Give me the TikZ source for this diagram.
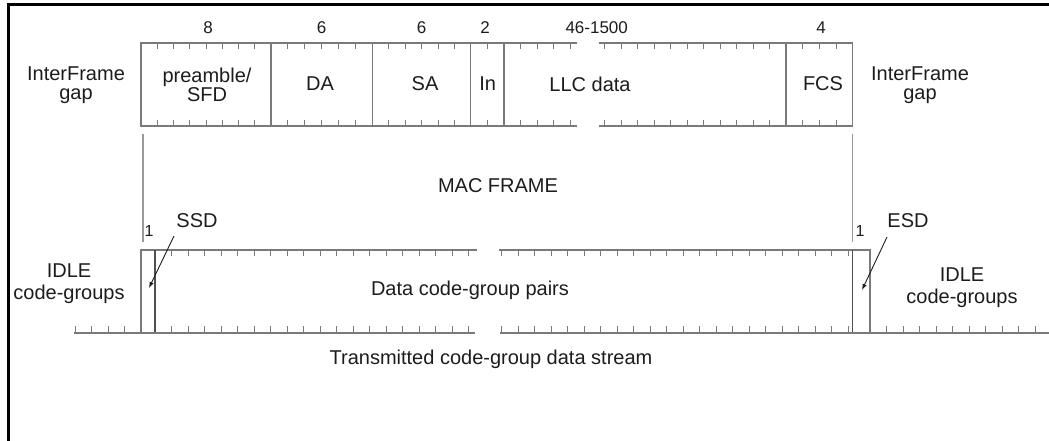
\documentclass[tikz,border=0pt]{standalone}
\usepackage{fontspec}
\setmainfont{Liberation Sans}
\usetikzlibrary{arrows.meta}
\definecolor{fg}{HTML}{7A7A7A}
\definecolor{dk}{HTML}{505050}
\definecolor{lt}{HTML}{9A9A9A}
\definecolor{txt}{HTML}{1C1C1C}
\begin{document}
\begin{tikzpicture}[x=1pt,y=-1pt,
  lbl/.style={font=\fontsize{20}{19}\selectfont, text=txt, inner sep=0pt, align=center},
  num/.style={font=\fontsize{17}{19}\selectfont, text=txt, inner sep=0pt},
  fr/.style={draw=fg, line width=1.2pt},
  dkline/.style={draw=dk, line width=1.2pt},
  midline/.style={draw=lt, line width=1.4pt},
  tk/.style={draw=fg, line width=1pt},
  ptr/.style={draw=txt, line width=0.9pt, -{Latex[length=6pt,width=4.5pt]}}]
\useasboundingbox (0,0) rectangle (1049,441);
% outer border (top and left)
\draw[line width=3pt, black, line join=miter] (1049,5) -- (8,5) -- (8,441);

% ---------- upper frame (MAC frame fields) ----------
\draw[fr] (576.7,43) -- (141,43) -- (141,126) -- (576.7,126);
\draw[fr] (599,43) -- (852.7,43) -- (852.7,126) -- (599,126);
\foreach \x in {271,372.5,470.7,504,786}
  \draw[fr] (\x,43) -- (\x,126);
\foreach \x in {157.25,173.5,189.75,206,222.25,238.5,254.75,
                287.9,304.8,321.7,338.6,355.5,
                388.9,405.2,421.6,438,454.3,
                487.4,
                520.5,537,553.5,570,
                604.5,621,637.5,654,670.5,687,703.5,720,736.5,753,769.5,
                802.7,819.3,836}
  {\draw[tk] (\x,43) -- (\x,49); \draw[tk] (\x,126) -- (\x,120);}

% ---------- MAC frame extent ----------
\draw[midline] (143,134) -- (143,242);
\draw[midline] (852.7,134) -- (852.7,242);

% ---------- lower frame (code-groups) ----------
\draw[fr] (476.7,250) -- (141,250) -- (141,333);
\draw[fr] (499,250) -- (870,250) -- (870,333);
\draw[dkline] (155,250) -- (155,333);
\draw[dkline] (852.5,250) -- (852.5,333);
\foreach \k in {1,...,19}
  {\draw[tk] (155+16.5*\k,250) -- (155+16.5*\k,256);
   \draw[tk] (155+16.5*\k,333) -- (155+16.5*\k,326);}
\foreach \k in {21,...,42}
  {\draw[tk] (155+16.5*\k,250) -- (155+16.5*\k,256);
   \draw[tk] (155+16.5*\k,333) -- (155+16.5*\k,326);}

% ---------- transmitted stream ----------
\draw[fr] (74,333) -- (475,333);
\draw[fr] (500,333) -- (1049,333);
\foreach \x in {75,91.5,108,124.5}
  \draw[tk] (\x,333) -- (\x,326);
\foreach \k in {1,...,10}
  \draw[tk] (870+16.5*\k,333) -- (870+16.5*\k,326);

% ---------- labels ----------
\node[num] (n8)  at (208,28)   {8};
\node[num] (n6a) at (321.7,28) {6};
\node[num] (n6b) at (421.7,28) {6};
\node[num] (n2)  at (485,28)   {2};
\node[num] (n46) at (596.7,28) {46-1500};
\node[num] (n4)  at (821,28)   {4};

\node[lbl] (ifgL) at (76,85)  {InterFrame\\gap};
\node[lbl] (pre)  at (207,85) {preamble/\\SFD};
\node[lbl] (da)   at (320,84) {DA};
\node[lbl] (sa)   at (425,84) {SA};
\node[lbl] (in)   at (487.7,84) {In};
\node[lbl] (llc)  at (590,84) {LLC data};
\node[lbl] (fcs)  at (823,84) {FCS};
\node[lbl] (ifgR) at (920,85) {InterFrame\\gap};

\node[lbl] (mac)  at (498,186) {MAC FRAME};
\node[lbl] (ssd)  at (197,221) {SSD};
\node[lbl] (esd)  at (908,221) {ESD};
\node[num, font=\fontsize{16}{18}\selectfont] (oneL) at (149,231) {1};
\node[num, font=\fontsize{16}{18}\selectfont] (oneR) at (860,231) {1};

\node[lbl] (idleL) at (69,284)  {IDLE\\[3pt]code-groups};
\node[lbl] (idleR) at (962,288) {IDLE\\[3pt]code-groups};
\node[lbl] (data)  at (470,290) {Data code-group pairs};
\node[lbl] (tx)    at (491,359) {Transmitted code-group data stream};

% ---------- pointers ----------
\coordinate (ssdtail) at (174,236);
\coordinate (ssdhead) at (149,288);
\coordinate (esdtail) at (887,237);
\coordinate (esdhead) at (862,290);
\draw[ptr] (ssdtail) -- (ssdhead);
\draw[ptr] (esdtail) -- (esdhead);
\end{tikzpicture}
\end{document}
